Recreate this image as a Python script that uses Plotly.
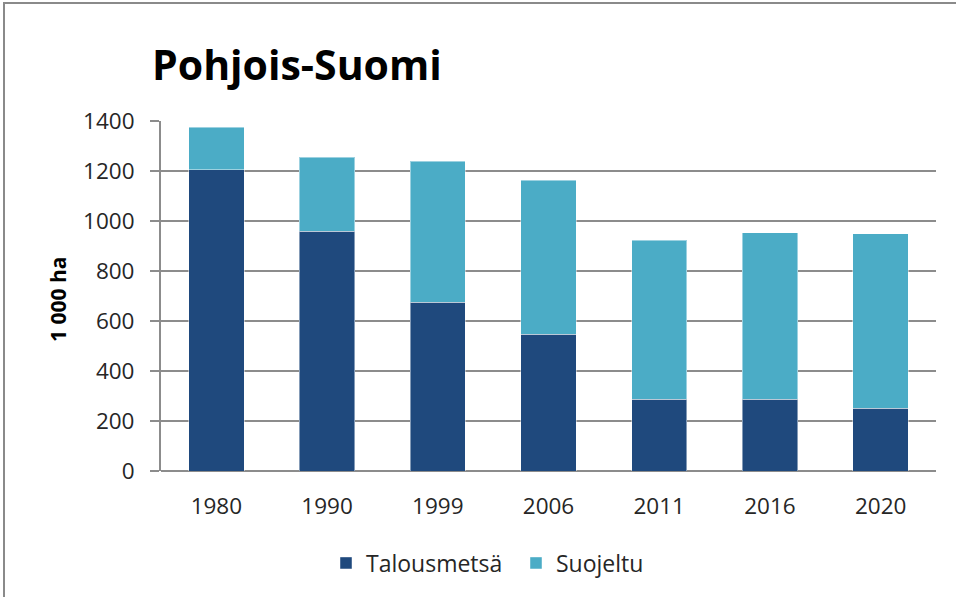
import plotly.graph_objects as go

years = ["1980", "1990", "1999", "2006", "2011", "2016", "2020"]
talousmetsa = [1205, 960, 675, 547, 287, 287, 251]
suojeltu = [170, 295, 565, 617, 637, 666, 698]
y_ticks = [0, 200, 400, 600, 800, 1000, 1200, 1400]

FONT = "Open Sans"
L, R, T, B = 161, 20, 121, 126
W, H = 956, 597
pw = W - L - R
ph = H - T - B

def px_x(x):
    return (x - L) / pw

def px_y(y):
    return (H - B - y) / ph

fig = go.Figure()
fig.add_trace(go.Bar(name="Talousmetsä", x=years, y=talousmetsa,
                     marker=dict(color="#1F497D", line=dict(color="rgba(255,255,255,0.45)", width=1))))
fig.add_trace(go.Bar(name="Suojeltu", x=years, y=suojeltu,
                     marker=dict(color="#4BACC6", line=dict(color="rgba(255,255,255,0.45)", width=1))))

fig.update_layout(
    barmode="stack",
    bargap=0.5,
    width=W, height=H,
    margin=dict(l=L, r=R, t=T, b=B),
    paper_bgcolor="white",
    plot_bgcolor="white",
    font=dict(family=FONT, size=22, color="#262626"),
    showlegend=True,
    legend=dict(orientation="h", x=px_x(516), xanchor="center", y=px_y(563), yanchor="middle",
                font=dict(size=23, color="#262626"), traceorder="normal", itemwidth=30,
                entrywidth=145),
    xaxis=dict(showgrid=False, ticks="", showline=False, tickfont=dict(size=22.5),
               ticklabelstandoff=19),
    yaxis=dict(range=[0, 1400], tickvals=y_ticks, showgrid=True, gridcolor="#8c8c8c", gridwidth=2,
               showline=True, linecolor="#8c8c8c", linewidth=2, ticks="outside", ticklen=9,
               tickcolor="#8c8c8c", tickwidth=2, tickfont=dict(size=22.5), zeroline=True,
               zerolinecolor="#8c8c8c", zerolinewidth=2, ticklabelstandoff=11),
    annotations=[
        dict(text="<b>Pohjois-Suomi</b>", xref="paper", yref="paper", x=px_x(150), y=px_y(64),
             xanchor="left", yanchor="middle", showarrow=False,
             font=dict(family=FONT, size=41, color="#000000")),
        dict(text="<b>1 000 ha</b>", xref="paper", yref="paper", x=px_x(58), y=px_y(300),
             xanchor="center", yanchor="middle", showarrow=False, textangle=-90,
             font=dict(family=FONT, size=21, color="#000000")),
    ],
    shapes=[
        dict(type="rect", xref="paper", yref="paper", x0=px_x(4), x1=px_x(990), y0=px_y(630), y1=px_y(3),
             line=dict(color="#8a8a8a", width=2), fillcolor="rgba(0,0,0,0)", layer="below"),
    ],
)

fig.write_html("out.html", config={"displayModeBar": False},
               post_script="document.body.style.margin='0';document.body.style.overflow='hidden';")
